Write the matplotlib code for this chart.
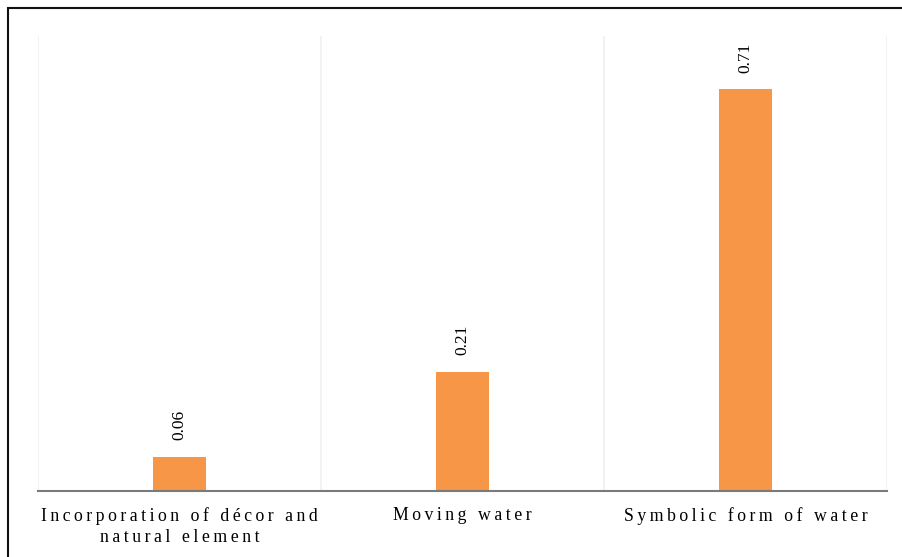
import matplotlib
matplotlib.use("Agg")
import matplotlib.pyplot as plt
from matplotlib.patches import Rectangle

categories = ["Incorporation of décor and\nnatural element", "Moving water", "Symbolic form of water"]
values = [0.06, 0.21, 0.71]

BAR_COLOR = "#F79646"
FONT = ["Liberation Serif", "DejaVu Serif"]


def spaced(text, gap="\u2009"):
    # widen tracking by putting a thin space between characters
    return "\n".join(gap.join(line) for line in text.split("\n"))


W, H = 903, 557
fig = plt.figure(figsize=(W / 100, H / 100), dpi=100)
ax = fig.add_axes([38 / W, (H - 491) / H, (887 - 38) / W, (491 - 36) / H])

x = list(range(len(categories)))
bars = ax.bar(x, values, width=0.185, color=BAR_COLOR, zorder=3)

for xi, v in zip(x, values):
    ax.annotate(f"{v:.2f}", xy=(xi, v), xytext=(0, 12), textcoords="offset points",
                ha="center", va="bottom", rotation=90, fontsize=12.5,
                family=FONT, color="#000000")

ax.set_xlim(-0.5, len(categories) - 0.5)
ax.set_ylim(0, 0.804)
ax.set_yticks([])
ax.set_xticks(x)
ax.set_xticklabels([spaced(c) for c in categories], fontsize=12.8, family=FONT,
                   linespacing=1.35)
ax.tick_params(axis="x", length=0, pad=11.5)
ax.set_xticks([i - 0.5 for i in range(len(categories) + 1)], minor=True)
ax.tick_params(axis="x", which="minor", length=0)
ax.grid(axis="x", which="minor", color="#F0F0F0", linewidth=1.2, zorder=0)
ax.grid(axis="x", which="major", visible=False)

for side in ("top", "right", "left"):
    ax.spines[side].set_visible(False)
ax.spines["bottom"].set_color("#7A7A7A")
ax.spines["bottom"].set_linewidth(1.5)
ax.spines["bottom"].set_zorder(4)

# outer frame around the chart
fig.patches.append(Rectangle((8 / W, -0.5), 2.0, 1.5 - 8 / H, transform=fig.transFigure,
                             fill=False, edgecolor="#111111", linewidth=1.5))

fig.savefig("out.png", dpi=100)
